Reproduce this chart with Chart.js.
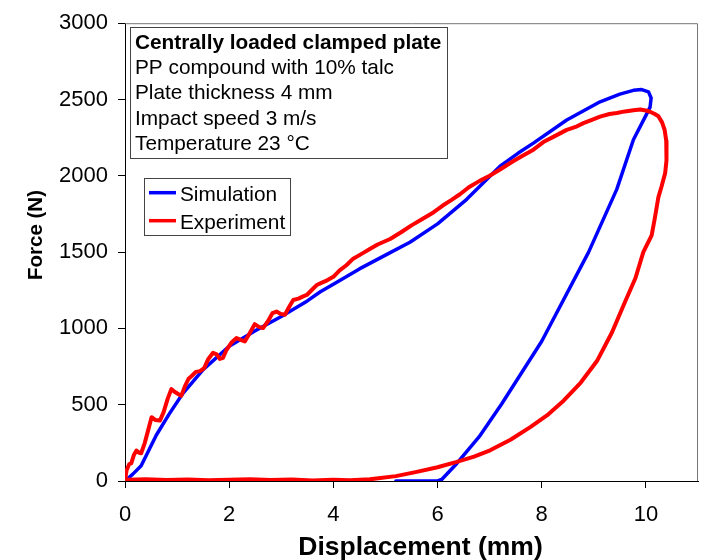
<!DOCTYPE html>
<html>
<head>
<meta charset="utf-8">
<script src="https://cdn.jsdelivr.net/npm/chart.js@4.4.0/dist/chart.umd.min.js"></script>
<style>
  html, body { margin: 0; padding: 0; background: #fff; }
  #wrap { width: 701px; height: 560px; }
</style>
</head>
<body>
<div id="wrap"><canvas id="force-displacement"></canvas></div>
<script>
// values
const simDisplacement = [0, 0.15, 0.31, 0.6, 0.85, 1.1, 1.5, 2.0, 2.5, 3.0, 3.5, 3.75, 4.0, 4.5, 5.0, 5.47, 6.0, 6.56, 7.01, 7.2, 7.55, 7.84, 8.48, 9.12, 9.5, 9.76, 9.92, 10.05, 10.1, 10.08, 10.02, 9.76, 9.44, 8.9, 8.0, 7.23, 6.8, 6.37, 6.08, 6.0, 5.2];
const simForce = [0, 45, 100, 300, 440, 569, 730, 883, 985, 1078, 1180, 1240, 1290, 1390, 1480, 1565, 1685, 1846, 1998, 2063, 2149, 2214, 2366, 2485, 2535, 2560, 2565, 2550, 2510, 2450, 2409, 2236, 1911, 1500, 916, 505, 290, 115, 10, 0, 0];

const expDisplacement = [0, 0.03, 0.08, 0.12, 0.17, 0.22, 0.27, 0.31, 0.38, 0.45, 0.51, 0.58, 0.67, 0.74, 0.82, 0.89, 0.95, 1.02, 1.08, 1.15, 1.22, 1.28, 1.36, 1.44, 1.52, 1.6, 1.69, 1.76, 1.82, 1.88, 1.95, 2.05, 2.14, 2.22, 2.3, 2.38, 2.49, 2.57, 2.65, 2.75, 2.83, 2.91, 2.99, 3.07, 3.15, 3.23, 3.33, 3.42, 3.49, 3.58, 3.68, 3.78, 3.88, 4.0, 4.12, 4.25, 4.38, 4.55, 4.7, 4.85, 5.09, 5.3, 5.5, 5.7, 5.92, 6.1, 6.27, 6.43, 6.6, 6.8, 7.0, 7.2, 7.45, 7.65, 7.84, 8.05, 8.25, 8.48, 8.65, 8.8, 8.95, 9.12, 9.3, 9.44, 9.6, 9.76, 9.89, 10.0, 10.08, 10.17, 10.24, 10.31, 10.36, 10.39, 10.4, 10.39, 10.37, 10.3, 10.24, 10.17, 10.11, 9.95, 9.8, 9.6, 9.35, 9.06, 8.75, 8.42, 8.1, 7.78, 7.4, 7.01, 6.7, 6.37, 6.0, 5.6, 5.2, 4.7, 4.32, 4.0, 3.6, 3.2, 2.8, 2.4, 2.0, 1.6, 1.2, 0.8, 0.4, 0.05];
const expForce = [0, 70, 110, 115, 170, 200, 185, 182, 250, 340, 418, 400, 396, 450, 540, 602, 585, 570, 558, 620, 670, 688, 715, 720, 740, 800, 840, 830, 800, 807, 860, 910, 937, 925, 915, 960, 1028, 1010, 1002, 1050, 1100, 1110, 1095, 1089, 1140, 1186, 1195, 1210, 1219, 1250, 1284, 1300, 1315, 1338, 1380, 1414, 1457, 1490, 1520, 1550, 1586, 1630, 1675, 1715, 1760, 1805, 1842, 1879, 1925, 1965, 2000, 2041, 2095, 2135, 2171, 2225, 2260, 2301, 2320, 2345, 2365, 2388, 2405, 2412, 2422, 2430, 2435, 2428, 2420, 2405, 2390, 2350, 2300, 2230, 2171, 2100, 2019, 1930, 1860, 1720, 1610, 1500, 1330, 1175, 975, 786, 645, 526, 430, 353, 270, 201, 160, 125, 90, 60, 32, 11, 5, 8, 4, 10, 6, 12, 8, 5, 10, 6, 12, 8];

const xTickValues = [0, 2, 4, 6, 8, 10];
const yTickValues = [0, 500, 1000, 1500, 2000, 2500, 3000];

const seriesNames = ['Simulation', 'Experiment'];
const seriesColors = ['#0000ff', '#ff0000'];

const infoTitle = 'Centrally loaded clamped plate';
const infoLines = ['PP compound with 10% talc', 'Plate thickness 4 mm', 'Impact speed 3 m/s', 'Temperature 23 °C'];

const xTitle = 'Displacement (mm)';
const yTitle = 'Force (N)';

function toPoints(xs, ys) {
    return xs.map((x, i) => ({ x: x, y: ys[i] }));
}

const FONT = '"Liberation Sans", Arial, sans-serif';

const decorations = {
    id: 'decorations',
    beforeDatasetsDraw(chart) {
        const ctx = chart.ctx;
        const a = chart.chartArea;
        ctx.save();
        ctx.strokeStyle = '#777777';
        ctx.lineWidth = 1;
        ctx.beginPath();
        ctx.moveTo(a.left, a.top + 0.5);
        ctx.lineTo(a.right - 0.5, a.top + 0.5);
        ctx.lineTo(a.right - 0.5, a.bottom);
        ctx.stroke();
        ctx.restore();
    },
    afterDraw(chart) {
        const ctx = chart.ctx;
        ctx.save();

        // info box
        ctx.fillStyle = '#ffffff';
        ctx.fillRect(130.5, 27.5, 317, 131);
        ctx.strokeStyle = '#444444';
        ctx.lineWidth = 1;
        ctx.strokeRect(130.5, 27.5, 317, 131);
        ctx.fillStyle = '#000000';
        ctx.textBaseline = 'alphabetic';
        ctx.textAlign = 'left';
        ctx.font = 'bold 20.8px ' + FONT;
        ctx.fillText(infoTitle, 135, 49);
        ctx.font = '20.8px ' + FONT;
        infoLines.forEach((line, i) => {
            ctx.fillText(line, 135, 74.2 + i * 25.2);
        });

        // legend
        ctx.fillStyle = '#ffffff';
        ctx.fillRect(144.5, 178.5, 146, 57);
        ctx.strokeStyle = '#444444';
        ctx.strokeRect(144.5, 178.5, 146, 57);
        seriesNames.forEach((name, i) => {
            const y = 192.7 + i * 28;
            ctx.strokeStyle = seriesColors[i];
            ctx.lineWidth = 3.5;
            ctx.beginPath();
            ctx.moveTo(149, y);
            ctx.lineTo(176, y);
            ctx.stroke();
            ctx.fillStyle = '#000000';
            ctx.font = '20.8px ' + FONT;
            ctx.fillText(name, 180, 201 + i * 28);
        });

        // axis titles
        ctx.fillStyle = '#000000';
        ctx.font = 'bold 26.5px ' + FONT;
        ctx.textAlign = 'center';
        ctx.fillText(xTitle, 420.5, 555);

        ctx.translate(42, 235);
        ctx.rotate(-Math.PI / 2);
        ctx.font = 'bold 20.5px ' + FONT;
        ctx.fillText(yTitle, 0, 0);
        ctx.restore();
    }
};

const ctx = document.getElementById('force-displacement');

const data = {
    datasets: [
        {
            label: seriesNames[0],
            data: toPoints(simDisplacement, simForce),
            borderColor: seriesColors[0],
            backgroundColor: seriesColors[0],
            borderWidth: 3.5,
            order: 2
        },
        {
            label: seriesNames[1],
            data: toPoints(expDisplacement, expForce),
            borderColor: seriesColors[1],
            backgroundColor: seriesColors[1],
            borderWidth: 4,
            order: 1
        }
    ]
};

const config = {
    type: 'scatter',
    data: data,
    options: {
        responsive: true,
        maintainAspectRatio: false,
        animation: false,
        layout: {
            padding: { top: 18, right: 3, bottom: 0, left: 0 }
        },
        elements: {
            point: { radius: 0 },
            line: { tension: 0, borderJoinStyle: 'round', borderCapStyle: 'round' }
        },
        datasets: {
            scatter: { showLine: true }
        },
        scales: {
            x: {
                type: 'linear',
                min: 0,
                max: 11,
                afterFit(scale) { scale.height = 79; },
                afterBuildTicks(scale) { scale.ticks = xTickValues.map(v => ({ value: v })); },
                grid: { display: true, drawOnChartArea: false, tickLength: 7, color: '#000000' },
                border: { color: '#000000', width: 1 },
                ticks: {
                    color: '#000000',
                    padding: 14,
                    maxRotation: 0,
                    font: { family: FONT, size: 22 },
                    callback: value => String(value)
                }
            },
            y: {
                type: 'linear',
                min: 0,
                max: 3000,
                afterFit(scale) { scale.width = 125; },
                afterBuildTicks(scale) { scale.ticks = yTickValues.map(v => ({ value: v })); },
                grid: { display: true, drawOnChartArea: false, tickLength: 7, color: '#000000' },
                border: { color: '#000000', width: 1 },
                ticks: {
                    color: '#000000',
                    padding: 10,
                    font: { family: FONT, size: 22 },
                    callback: value => String(value)
                }
            }
        },
        plugins: {
            legend: { display: false },
            tooltip: { enabled: false }
        }
    },
    plugins: [decorations]
};

new Chart(ctx, config);
</script>
</body>
</html>
